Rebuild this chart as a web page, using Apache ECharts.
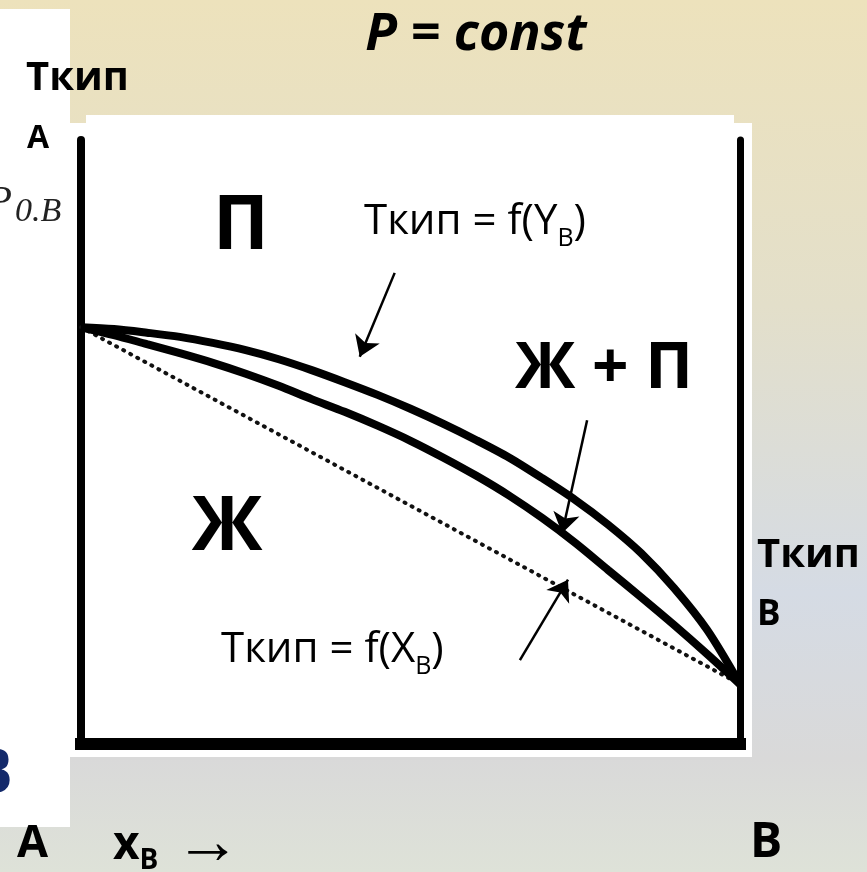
<!DOCTYPE html>
<html>
<head>
<meta charset="utf-8">
<script src="https://cdn.jsdelivr.net/npm/echarts@6/dist/echarts.min.js"></script>
<style>
  html, body { margin: 0; padding: 0; }
  #chart { width: 867px; height: 872px; }
</style>
</head>
<body>
<div id="chart"></div>
<script>
// mole fraction of B
const xB = [0, 0.05, 0.1, 0.15, 0.2, 0.25, 0.3, 0.35, 0.4, 0.45, 0.5,
  0.55, 0.6, 0.65, 0.7, 0.75, 0.8, 0.85, 0.9, 0.95, 1]
// Ткип = f(Y_B), vapour line
const vaporT = [69.0, 68.7, 68.1, 67.4, 66.4, 65.2, 63.7, 61.9, 59.9, 57.8, 55.5,
  53.0, 50.3, 47.4, 44.0, 40.4, 36.3, 31.6, 25.8, 18.9, 9.9]
// Ткип = f(X_B), liquid line
const liquidT = [69.0, 67.7, 66.2, 64.7, 63.1, 61.3, 59.3, 57.1, 55.0, 52.7, 50.2,
  47.4, 44.4, 41.1, 37.4, 33.3, 28.8, 24.3, 19.7, 14.9, 9.9]
// boiling points of pure A and B
const tA = 69.0
const tB = 9.9
// pointer arrows, [tail, head]
const arrows = [
  [[0.476, 78.0], [0.423, 64.1]],
  [[0.768, 53.6], [0.730, 34.9]],
  [[0.666, 13.9], [0.739, 27.2]]
]

const chart = echarts.init(document.getElementById('chart'))

const pair = (xs, ys) => xs.map((x, i) => [x, ys[i]])
const font = 'Open Sans'

const txt = (x, y, text, size, opts) => Object.assign({
  type: 'text',
  z: 50,
  style: Object.assign({
    x: x,
    y: y,
    text: text,
    fill: '#000',
    fontFamily: font,
    fontSize: size,
    fontWeight: 'bold',
    textAlign: 'left',
    textVerticalAlign: 'middle'
  }, opts || {})
})

chart.setOption({
  backgroundColor: {
    type: 'linear', x: 0, y: 0, x2: 0, y2: 1,
    colorStops: [
      { offset: 0, color: '#ede2bc' },
      { offset: 0.35, color: '#e3dfca' },
      { offset: 0.68, color: '#d5dbe4' },
      { offset: 0.87, color: '#d9d9d9' },
      { offset: 1, color: '#dee2d8' }
    ]
  },
  animation: false,
  grid: { left: 81, right: 127, top: 140, bottom: 128 },
  xAxis: {
    type: 'value', min: 0, max: 1,
    axisLine: { onZero: false, lineStyle: { color: '#000', width: 12, cap: 'square' } },
    axisTick: { show: false }, axisLabel: { show: false }, splitLine: { show: false }
  },
  yAxis: [{
    type: 'value', min: 0, max: 100, position: 'left',
    axisLine: { show: true, onZero: false, lineStyle: { color: '#000', width: 8 } },
    axisTick: { show: false }, axisLabel: { show: false }, splitLine: { show: false }
  }, {
    type: 'value', min: 0, max: 100, position: 'right',
    axisLine: { show: true, onZero: false, lineStyle: { color: '#000', width: 7 } },
    axisTick: { show: false }, axisLabel: { show: false }, splitLine: { show: false }
  }],
  series: [{
    name: 'ideal',
    type: 'line',
    data: [[0, tA], [1, tB]],
    showSymbol: false,
    lineStyle: { color: '#111', width: 4, type: [1, 7], cap: 'round' },
    z: 3
  }, {
    name: 'Ткип = f(Y_B)',
    type: 'line',
    data: pair(xB, vaporT),
    smooth: 0.3,
    showSymbol: false,
    lineStyle: { color: '#000', width: 8 },
    z: 4
  }, {
    name: 'Ткип = f(X_B)',
    type: 'line',
    data: pair(xB, liquidT),
    smooth: 0.3,
    showSymbol: false,
    lineStyle: { color: '#000', width: 8 },
    z: 4
  }, {
    name: 'arrows',
    type: 'lines',
    coordinateSystem: 'cartesian2d',
    symbol: ['none', 'arrow'],
    symbolSize: 20,
    lineStyle: { color: '#000', width: 2.5, opacity: 1 },
    data: arrows.map(a => ({ coords: a })),
    z: 5
  }],
  graphic: [
    { type: 'rect', z: -10, shape: { x: 0, y: 9, width: 70, height: 818 }, style: { fill: '#fff' } },
    { type: 'rect', z: -10, shape: { x: 70, y: 123, width: 682, height: 634 }, style: { fill: '#fff' } },
    { type: 'rect', z: -10, shape: { x: 86, y: 115, width: 648, height: 10 }, style: { fill: '#fff' } },

    txt(476, 35, 'P = const', 52, { fontStyle: 'italic', textAlign: 'center' }),
    txt(26, 79, 'Ткип', 40),
    txt(27, 139, 'А', 32),
    txt(12, 202, 'P', 40, { fontFamily: 'Liberation Serif', fontWeight: 'normal', fontStyle: 'italic', textAlign: 'right', fill: '#222' }),
    txt(15, 212, '0.B', 34, { fontFamily: 'Liberation Serif', fontWeight: 'normal', fontStyle: 'italic', fill: '#222' }),
    txt(13, 775, 'В', 62, { textAlign: 'right', fill: '#13296a' }),

    txt(241, 228, 'П', 75, { textAlign: 'center' }),
    txt(227, 529, 'Ж', 75, { textAlign: 'center' }),
    txt(604, 370, 'Ж + П', 64, { textAlign: 'center' }),

    txt(364, 222, '{m|Ткип = f(Y}{s|B}{m|)}', 42, {
      fontWeight: 'normal',
      rich: {
        m: { fontFamily: font, fontSize: 42, fill: '#000' },
        s: { fontFamily: font, fontSize: 25, fill: '#000', padding: [34, 0, 0, 0] }
      }
    }),
    txt(221, 650, '{m|Ткип = f(X}{s|B}{m|)}', 42, {
      fontWeight: 'normal',
      rich: {
        m: { fontFamily: font, fontSize: 42, fill: '#000' },
        s: { fontFamily: font, fontSize: 25, fill: '#000', padding: [34, 0, 0, 0] }
      }
    }),

    txt(757, 556, 'Ткип', 40),
    txt(757, 615, 'В', 35),

    txt(17, 844, 'А', 45),
    txt(113, 846, '{x|x}{s|B}{a| →}', 46, {
      rich: {
        x: { fontFamily: font, fontWeight: 'bold', fontSize: 46, fill: '#000' },
        s: { fontFamily: font, fontWeight: 'bold', fontSize: 28, fill: '#000', padding: [30, 0, 0, 0] },
        a: { fontFamily: 'Liberation Serif', fontWeight: 'normal', fontSize: 66, fill: '#000' }
      }
    }),
    txt(750, 843, 'В', 48)
  ]
})
</script>
</body>
</html>
